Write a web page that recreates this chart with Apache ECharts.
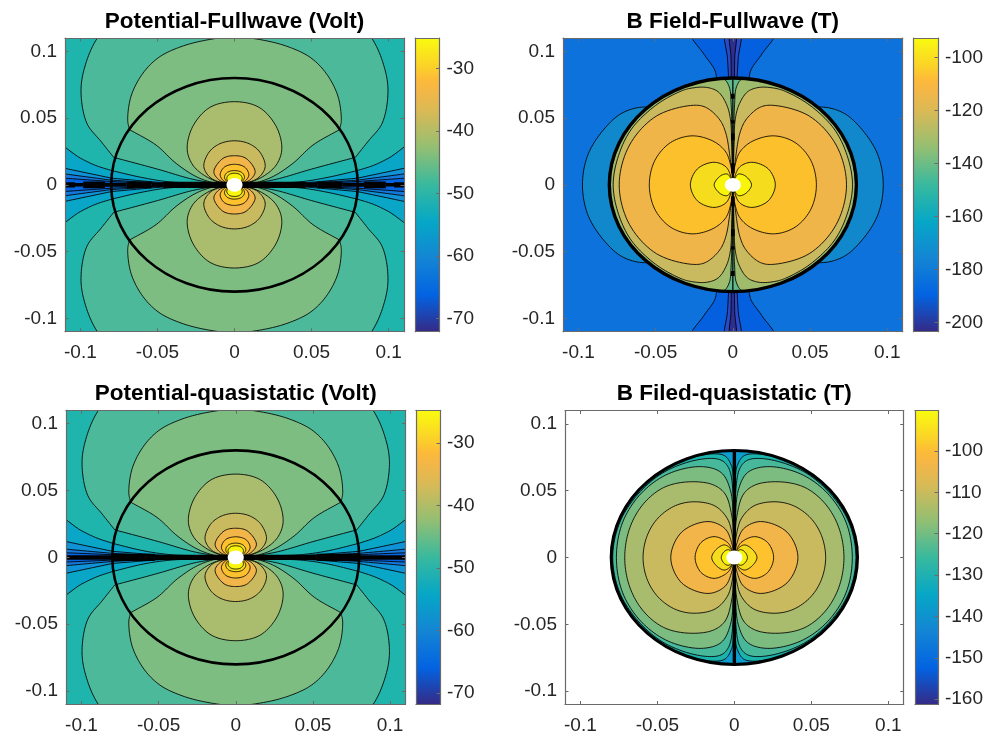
<!DOCTYPE html>
<html><head><meta charset="utf-8">
<style>html,body{margin:0;padding:0;background:#fff}#c{width:986px;height:737px}</style>
<script src="https://cdn.jsdelivr.net/npm/echarts@6/dist/echarts.min.js"></script>
</head><body><div id="c"></div>
<script>
// ---- titles and ticks ----
const titles = ['Potential-Fullwave (Volt)','B Field-Fullwave (T)','Potential-quasistatic (Volt)','B Filed-quasistatic (T)'];
const axisRange = 0.11;
const axisTicks = [-0.1,-0.05,0,0.05,0.1];
const cbarRanges = [[-72.1,-25.1],[-203.5,-92.6],[-71.8,-24.8],[-161.3,-90.2]];
const cbarTicks = [[-70,-60,-50,-40,-30],[-200,-180,-160,-140,-120,-100],[-70,-60,-50,-40,-30],[-160,-150,-140,-130,-120,-110,-100]];
const parula = [[0,'#352a87'],[0.125,'#0363e1'],[0.25,'#1485d4'],[0.375,'#06a7c6'],[0.5,'#38b99e'],[0.625,'#92bf73'],[0.75,'#d9ba56'],[0.82,'#f4b647'],[0.86,'#fdbb38'],[0.9,'#fbd02a'],[1,'#f9fb0e']];
const boundaryRadius = 0.08, holeRadius = 0.0052;

// ---- potential contours: first quadrant (x, y) ----
const phiFillBack = '#1fb5ac';
const phiC1 = [[0,.165],[.04,.158],[.07,.1335],[.089,.11],[.0972,.0882],[.0996,.0695],[.0958,.0461],[.0866,.0325],[.0784,.0206],[.0784,.0206],[.05,.0118],[.0271,.0042],[.012,.0012],[.004,.0003],[0,0]];
const phiC2 = [[0,.1108],[.018,.1085],[.0347,.1035],[.0491,.0955],[.0595,.0835],[.0671,.0665],[.0693,.0484],[.0682,.0414],[.0682,.0414],[.0509,.0298],[.0379,.0161],[.0249,.0062],[.0141,.0017],[.005,.0003],[0,0]];
const phiC3 = [[0,.0623],[.016,.058],[.0271,.0437],[.0307,.0268],[.0271,.0149],[.0184,.0062],[.0076,.0012],[0,0]];
const phiC4 = [[0,.033],[.0095,.0308],[.0165,.0245],[.0199,.0136],[.0152,.005],[.0043,.0007],[0,0]];
const phiC5 = [[0,.0218],[.0075,.0198],[.0134,.0099],[.01,.0037],[.003,.0006],[0,0]];
const phiC6 = [[0,.0154],[.0067,.0132],[.0093,.0074],[.0065,.0025],[0,0]];
const phiC7 = [[0,.0107],[.0048,.0092],[.0065,.0057],[.0045,.002],[0,0]];
const phiC8 = [[0,.0087],[.0035,.0077],[.005,.005],[.0035,.0015],[0,0]];
const phiLobes = [phiC1,phiC2,phiC3,phiC4,phiC5,phiC6,phiC7,phiC8];
const phiLobeFills = ['#4cb99a','#7dbd82','#aabc6e','#c9b95f','#f1b549','#fdc12e','#f5dc1e','#f8f40c'];

const fullW1 = [[.004,.0002],[.0419,.0022],[.06,.0055],[.0797,.0107],[.0797,.0107],[.09,.0145],[.1,.02],[.12,.0335],[.12,0],[.12,0]];
const fullW2 = [[.004,.0001],[.04,.0012],[.0797,.005],[.0797,.005],[.11,.0124],[.12,.015],[.12,0],[.12,0]];
const fullW3 = [[.004,.0001],[.04,.0009],[.0797,.0035],[.0797,.0035],[.11,.0082],[.12,.01],[.12,0],[.12,0]];
const fullW4 = [[.004,.0001],[.04,.0007],[.0797,.0025],[.0797,.0025],[.11,.005],[.12,.006],[.12,0],[.12,0]];
const fullWedges = [fullW1,fullW2,fullW3,fullW4];
const wedgeFills = ['#0aa6c7','#0f92d6','#1479da','#0463df'];
// black band where lines crowd along y = 0: [|x| from, |x| to, half height]
const fullBand = [[.004,.0462,.0024],[.0462,.0538,.0015],[.0538,.07,.0026],[.07,.0841,.0015],[.0841,.0982,.0026],[.0982,.1035,.0013],[.1035,.11,.002]];

const quasiW1 = [[.004,.0002],[.0419,.002],[.06,.005],[.0797,.0105],[.0797,.0105],[.09,.0145],[.1,.02],[.12,.0335],[.12,0],[.12,0]];
const quasiW2 = [[.004,.0001],[.04,.0011],[.0797,.0045],[.0797,.0045],[.11,.0119],[.12,.0145],[.12,0],[.12,0]];
const quasiW3 = [[.004,.0001],[.04,.0008],[.0797,.003],[.0797,.003],[.11,.0062],[.12,.0075],[.12,0],[.12,0]];
const quasiW4 = [[.004,.0001],[.04,.0006],[.0797,.002],[.0797,.002],[.11,.0035],[.12,.004],[.12,0],[.12,0]];
const quasiWedges = [quasiW1,quasiW2,quasiW3,quasiW4];
const quasiBand = [[.004,.0525,.002],[.0525,.08,.0027],[.08,.11,.0017]];

// ---- B field fullwave ----
const bFullBack = '#0e72dc';
const bFullSide = [[.0974,0],[.0935,.0236],[.0813,.0445],[.0705,.0545],[.0556,.0583],[.03,.05],[0,0]];
const bFullTop1 = [[.0275,.115],[.0188,.098],[.0117,.086],[.0102,.077],[.0102,.077],[0,.077]];
const bFullTop2 = [[.0048,.115],[.0035,.095],[.0026,.077],[.0026,.077],[0,.077]];
const bFullTop3 = [[.0018,.115],[.0012,.095],[.001,.077],[.001,.077],[0,.077]];
const bFullTopFills = ['#0560e0','#2a4ac8','#2d2f90'];
const bFullDisc = '#62ba8a';
const bFullD1 = [[.0795,0],[.075,.027],[.063,.0485],[.045,.066],[.025,.0755],[.0063,.0795],[.0024,.0735],[.0011,.06],[.0005,.03],[.0003,.01],[0,0]];
const bFullD2 = [[.0775,0],[.074,.022],[.0655,.042],[.05,.0595],[.035,.0695],[.0279,.0722],[.0171,.073],[.0095,.0697],[.004,.06],[.0015,.0486],[.0008,.03],[.0003,.01],[0,0]];
const bFullD3 = [[.0736,0],[.0669,.0298],[.0494,.0516],[.0255,.0596],[.0171,.0578],[.0084,.0486],[.0045,.0385],[.002,.022],[.0006,.008],[0,0]];
const bFullD4 = [[.0541,0],[.0505,.0183],[.0403,.0317],[.0264,.0367],[.0124,.0325],[.0045,.0245],[.0012,.0135],[.0003,.005],[0,0]];
const bFullD5 = [[.0275,0],[.0229,.012],[.0123,.0169],[.0045,.0135],[.0012,.006],[0,0]];
const bFullD6 = [[.0121,0],[.008,.0067],[.0035,.008],[.001,.004],[0,0]];
const bFullLobes = [bFullD1,bFullD2,bFullD3,bFullD4,bFullD5,bFullD6];
const bFullFills = ['#9fbc6c','#c9b95f','#f0b549','#fdc02d','#f5dc1c','#f8f50a'];
const bFullDashes = [[.0645,.0682],[.0459,.0484],[.0335,.0385],[.0087,.0161]];

// ---- B field quasistatic ----
const bQuasiDisc = '#0d9dce';
const bQuasiE1 = [[.0795,0],[.075,.0265],[.06,.0522],[.04,.0692],[.0219,.0765],[.0067,.0764],[.002,.069],[.0005,.0578],[.0002,.02],[0,0]];
const bQuasiE2 = [[.079,0],[.0745,.026],[.0625,.0475],[.045,.0643],[.0219,.0735],[.0087,.0729],[.0035,.0665],[.0007,.0466],[.0003,.015],[0,0]];
const bQuasiE3 = [[.0766,0],[.0725,.0265],[.0604,.0481],[.0429,.0626],[.0214,.068],[.0085,.0635],[.0025,.05],[.0006,.025],[0,0]];
const bQuasiE4 = [[.0712,0],[.0679,.0222],[.0591,.0401],[.046,.0523],[.03,.0566],[.014,.0545],[.006,.0475],[.0015,.03],[.0003,.01],[0,0]];
const bQuasiE5 = [[.0593,0],[.0566,.0164],[.0495,.0296],[.0383,.0388],[.0258,.0417],[.0125,.0385],[.0045,.029],[.0012,.016],[.0003,.005],[0,0]];
const bQuasiE6 = [[.0413,0],[.0342,.019],[.0171,.0269],[.006,.0215],[.0015,.01],[.0004,.003],[0,0]];
const bQuasiE7 = [[.0255,0],[.0217,.0111],[.0132,.0156],[.0043,.0111],[.001,.004],[0,0]];
const bQuasiE8 = [[.0147,0],[.0118,.006],[.0067,.0094],[.003,.0073],[.001,.003],[0,0]];
const bQuasiE9 = [[.0085,0],[.0065,.0045],[.0035,.0058],[.001,.002],[0,0]];
const bQuasiLobes = [bQuasiE1,bQuasiE2,bQuasiE3,bQuasiE4,bQuasiE5,bQuasiE6,bQuasiE7,bQuasiE8,bQuasiE9];
const bQuasiFills = ['#1bb4ad','#48b89b','#7cbc80','#a9bb6d','#c9b95f','#f1b549','#fdc22e','#f5dc1c','#f8f50a'];
const bQuasiStrip = 0.0011;

// ---- helpers: build closed outlines by mirroring a quadrant ----
const mx = q => q.map(p => [-p[0],p[1]]);
const my = q => q.map(p => [p[0],-p[1]]);
const closeX = q => { const r=mx(q).reverse(); return q.concat(q[0][0]===0 ? r.slice(1,-1) : r.slice(1)); };
const closeY = q => { const r=my(q).reverse(); return q.concat(q[0][1]===0 ? r.slice(1,-1) : r.slice(1)); };
const LINE = 'rgba(0,0,0,0.85)';
const poly = (pts,fill,lw) => ({pts,fill,stroke:lw===0?null:LINE,lw:lw===undefined?1:lw,curve:true});
const sharp = (pts,fill) => ({pts,fill,stroke:null,lw:0,curve:false});
function lobesUpDown(arr,fills){ const out=[]; arr.forEach((q,i)=>{const a=q.concat([q[q.length-1]]);const c=closeX(a);out.push(poly(c,fills[i]),poly(my(c),fills[i]));}); return out; }
function lobesLeftRight(arr,fills){ const out=[]; arr.forEach((q,i)=>{const a=q.concat([q[q.length-1]]);const c=closeY(a);out.push(poly(c,fills[i]),poly(mx(c),fills[i]));}); return out; }
function wedges(arr,fills){ const out=[]; arr.forEach((q,i)=>{const c=closeY(q);out.push(poly(c,fills[i]),poly(mx(c),fills[i]));}); return out; }
function band(segs){ const out=[]; segs.forEach(s=>{[1,-1].forEach(k=>{out.push(sharp([[k*s[0],-s[2]],[k*s[1],-s[2]],[k*s[1],s[2]],[k*s[0],s[2]]],'#000'));});}); return out; }
function vband(segs,h){ const out=[]; segs.forEach(s=>{[1,-1].forEach(k=>{out.push(sharp([[-h,k*s[0]],[h,k*s[0]],[h,k*s[1]],[-h,k*s[1]]],'#000'));});}); return out; }
const box = fill => sharp([[-.12,-.12],[.12,-.12],[.12,.12],[-.12,.12]],fill);
const disc = (r,fill,stroke,lw) => ({disc:r,fill,stroke,lw});

const panels = [
  {layers:[box(phiFillBack)].concat(wedges(fullWedges,wedgeFills),lobesUpDown(phiLobes,phiLobeFills),band(fullBand)),ringW:2.6},
  {layers:[box(bFullBack)].concat(
     lobesLeftRight([bFullSide],['#1288cc']),
     [bFullTop1,bFullTop2,bFullTop3].reduce((o,q,i)=>{const c=closeX(q);o.push(poly(c,bFullTopFills[i]),poly(my(c),bFullTopFills[i]));return o;},[]),
     [disc(boundaryRadius,bFullDisc,null,0)],
     lobesLeftRight(bFullLobes,bFullFills),
     vband([[.0055,.08]],.0004),vband(bFullDashes,.0012)),ringW:3.4},
  {layers:[box(phiFillBack)].concat(wedges(quasiWedges,wedgeFills),lobesUpDown(phiLobes,phiLobeFills),band(quasiBand)),ringW:2.6},
  {layers:[disc(boundaryRadius,bQuasiDisc,null,0)].concat(lobesLeftRight(bQuasiLobes,bQuasiFills),vband([[.004,.08]],bQuasiStrip)),ringW:3}
];
panels.forEach(p=>{ p.layers.push(disc(boundaryRadius,'none','#000',p.ringW), disc(holeRadius,'#fff',null,0)); });

// closed centripetal Catmull-Rom through the read points; a doubled point is a corner
function smoothClosed(ptsIn){
  const pts=[],corner=[];
  ptsIn.forEach(p=>{const l=pts[pts.length-1];
    if(l&&Math.hypot(p[0]-l[0],p[1]-l[1])<1e-6){corner[pts.length-1]=true;}else{pts.push(p);corner.push(false);}});
  const n=pts.length,out=[],S=10;
  const lerp=(a,b,t0,t1,t)=>{const d=t1-t0||1e-9,u=(t-t0)/d;return [a[0]+(b[0]-a[0])*u,a[1]+(b[1]-a[1])*u];};
  for(let i=0;i<n;i++){
    let p1=pts[i],p2=pts[(i+1)%n],p0=pts[(i-1+n)%n],p3=pts[(i+2)%n];
    if(corner[i]) p0=[2*p1[0]-p2[0],2*p1[1]-p2[1]];
    if(corner[(i+1)%n]) p3=[2*p2[0]-p1[0],2*p2[1]-p1[1]];
    const dt=(a,b)=>Math.max(Math.sqrt(Math.hypot(a[0]-b[0],a[1]-b[1])),1e-4);
    const t0=0,t1=t0+dt(p0,p1),t2=t1+dt(p1,p2),t3=t2+dt(p2,p3);
    for(let k=0;k<S;k++){
      const t=t1+(t2-t1)*k/S;
      const A1=lerp(p0,p1,t0,t1,t),A2=lerp(p1,p2,t1,t2,t),A3=lerp(p2,p3,t2,t3,t);
      const B1=lerp(A1,A2,t0,t2,t),B2=lerp(A2,A3,t1,t3,t);
      out.push(lerp(B1,B2,t1,t2,t));
    }
  }
  return out;
}

// ---- layout ----
const plotBoxes = [[65,38,339,293.7],[563,38,339.7,293.7],[66,410.3,339.5,294.2],[565,410.5,338.7,294]];
const cbarBoxes = [[415.3,38,24.2,293.7],[913.7,38,24.3,293.7],[416,410.3,24,294.2],[915,410.5,24,294]];
const FONT='"Liberation Sans", Arial, sans-serif', TXT='#262626', EDGE='#6a6a6a', FS=19;

const grid=[],xAxis=[],yAxis=[],series=[],title=[];
const edgeLine={show:true,onZero:false,lineStyle:{color:EDGE,width:1.2}};
panels.forEach((p,i)=>{
  const b=plotBoxes[i],c=cbarBoxes[i];
  grid.push({left:b[0],top:b[1],width:b[2],height:b[3]});
  grid.push({left:c[0],top:c[1],width:c[2],height:c[3]});
  const g=i*2, gc=i*2+1;
  const ticks=()=>({show:true,inside:true,length:3.5,customValues:axisTicks,lineStyle:{color:EDGE,width:1}});
  const base={min:-axisRange,max:axisRange,type:'value',splitLine:{show:false},axisLine:edgeLine,z:6,gridIndex:g};
  xAxis.push(Object.assign({},base,{position:'bottom',axisTick:ticks(),axisLabel:{customValues:axisTicks,fontFamily:FONT,fontSize:FS,color:TXT,margin:12,hideOverlap:false,showMinLabel:true,showMaxLabel:true}}));
  xAxis.push(Object.assign({},base,{position:'top',axisTick:ticks(),axisLabel:{show:false}}));
  yAxis.push(Object.assign({},base,{position:'left',axisTick:ticks(),axisLabel:{customValues:axisTicks,fontFamily:FONT,fontSize:FS,color:TXT,margin:8}}));
  yAxis.push(Object.assign({},base,{position:'right',axisTick:ticks(),axisLabel:{show:false}}));
  const xi=xAxis.length-2, yi=yAxis.length-2;
  const r=cbarRanges[i];
  xAxis.push({type:'value',min:0,max:1,gridIndex:gc,position:'bottom',axisLine:edgeLine,axisTick:{show:false},axisLabel:{show:false},splitLine:{show:false},z:6});
  xAxis.push({type:'value',min:0,max:1,gridIndex:gc,position:'top',axisLine:edgeLine,axisTick:{show:false},axisLabel:{show:false},splitLine:{show:false},z:6});
  yAxis.push({type:'value',min:r[0],max:r[1],gridIndex:gc,position:'right',axisLine:edgeLine,splitLine:{show:false},z:6,
    axisTick:{show:true,inside:true,length:3.5,customValues:cbarTicks[i],lineStyle:{color:EDGE,width:1}},
    axisLabel:{customValues:cbarTicks[i],fontFamily:FONT,fontSize:FS,color:TXT,margin:7}});
  yAxis.push({type:'value',min:r[0],max:r[1],gridIndex:gc,position:'left',axisLine:edgeLine,splitLine:{show:false},axisTick:{show:false},axisLabel:{show:false},z:6});
  const cxi=xAxis.length-2, cyi=yAxis.length-2;

  const layers=p.layers;
  series.push({type:'custom',coordinateSystem:'cartesian2d',xAxisIndex:xi,yAxisIndex:yi,clip:true,silent:true,animation:false,z:2,
    data:layers.map((l,k)=>[0,0,k]),
    renderItem:(params,api)=>{
      const l=layers[params.dataIndex];
      if(l.disc!==undefined){
        const o=api.coord([0,0]),e=api.coord([l.disc,l.disc]);
        return {type:'ellipse',shape:{cx:o[0],cy:o[1],rx:e[0]-o[0],ry:o[1]-e[1]},style:{fill:l.fill==='none'?null:l.fill,stroke:l.stroke,lineWidth:l.lw}};
      }
      let pts=l.pts.map(q=>api.coord(q));
      if(l.curve) pts=smoothClosed(pts);
      return {type:'polygon',shape:{points:pts},style:{fill:l.fill,stroke:l.stroke,lineWidth:l.lw}};
    }});
  series.push({type:'custom',coordinateSystem:'cartesian2d',xAxisIndex:cxi,yAxisIndex:cyi,silent:true,animation:false,z:2,
    data:[[0,r[0]]],
    renderItem:(params,api)=>{
      const a=api.coord([0,r[1]]),d=api.coord([1,r[0]]);
      return {type:'rect',shape:{x:a[0],y:a[1],width:d[0]-a[0],height:d[1]-a[1]},
        style:{fill:{type:'linear',x:0,y:1,x2:0,y2:0,colorStops:parula.map(s=>({offset:s[0],color:s[1]}))}}};
    }});
  title.push({text:titles[i],left:b[0]+b[2]/2,top:b[1]-28,padding:0,textAlign:'center',textStyle:{fontFamily:FONT,fontWeight:'bold',fontSize:22.5,color:'#000'}});
});

const chart=echarts.init(document.getElementById('c'),null,{renderer:'canvas'});
chart.setOption({animation:false,backgroundColor:'#fff',title,grid,xAxis,yAxis,series});
</script></body></html>
